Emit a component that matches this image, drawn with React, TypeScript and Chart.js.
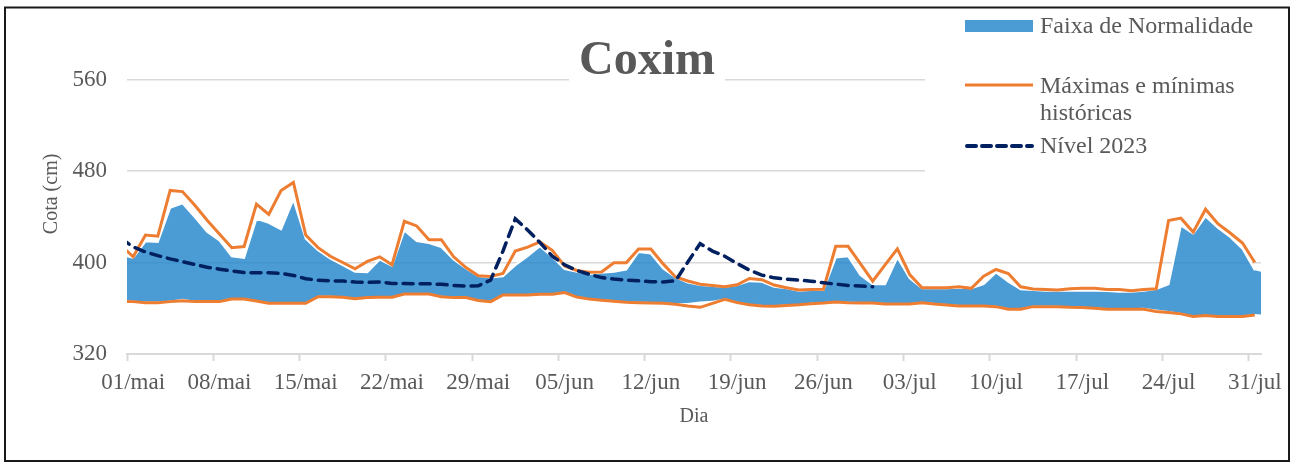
import React, { useEffect, useRef } from 'react';
import { Chart, registerables } from 'chart.js';

Chart.register(...registerables);

// Categories: one per day, 30/abr .. 01/ago (axis shows 01/mai .. 31/jul)
const MONTHS: [string, number, number][] = [
  ['abr', 30, 30],
  ['mai', 1, 31],
  ['jun', 1, 30],
  ['jul', 1, 31],
  ['ago', 1, 1],
];
const dayLabels: string[] = MONTHS.flatMap(([m, a, b]) =>
  Array.from({ length: b - a + 1 }, (_, i) => `${String(a + i).padStart(2, '0')}/${m}`)
);

// Historical maximum (cm)
const histMax: number[] = [
  415,
  405, 424, 423, 463, 462, 450, 437, 425, 413, 414,
  451, 442, 463, 470, 424, 413, 405.5, 400, 394.5, 401,
  405, 398, 436, 432, 420, 420, 405, 395.6, 388.5, 387.8,
  390.5, 410, 413.5, 418, 410.7, 397, 393, 391.5, 391.7, 399.7,
  399.7, 411.8, 411.8, 398.8, 387.3, 383.8, 381, 380, 378.8, 380.5,
  386, 385, 380.3, 378, 375.9, 376.5, 376.6, 414.2, 414.2, 399.1,
  383.7, 398, 412, 389.5, 378, 378, 378, 378.8, 377.4, 388.1,
  393.9, 390.4, 378.8, 376.8, 376.5, 375.9, 377, 377.4, 377.4, 376.5,
  376.5, 375.3, 376.5, 377.1, 436.8, 438.8, 426.6, 446.6, 433.9, 425.8,
  417.1, 400, 388,
];

// Historical minimum (cm)
const histMin: number[] = [
  366,
  365.8, 364.9, 364.9, 365.8, 366.6, 365.8, 365.8, 365.8, 368.1, 368.1,
  366.3, 364.3, 364.3, 364.3, 364.3, 370.1, 370.1, 369.6, 368.4, 369.3,
  369.6, 369.6, 372.4, 372.4, 372.4, 370.1, 369.3, 369.3, 366.8, 365.8,
  371.6, 371.6, 371.6, 372.2, 372.3, 373.7, 369.8, 368, 367, 366.2,
  365.2, 364.9, 364.6, 364.3, 363.5, 362, 360.8, 364.3, 367.8, 364.9,
  363, 362, 361.8, 362.4, 363, 364, 364.5, 365.5, 364.9, 364.7,
  364.6, 363.8, 363.8, 363.8, 364.9, 363.8, 362.9, 362, 362, 362,
  361.4, 359.1, 359.1, 361.4, 361.4, 361.4, 360.8, 360.6, 360, 359.1,
  359.1, 359.1, 359.1, 357.1, 356.2, 355.1, 352.8, 353.6, 352.8, 352.8,
  352.8, 354.2, 353.3,
];

// Normal band lower limit (cm)
const normalMin: number[] = [
  367,
  366.6, 365.8, 365.8, 366.6, 368.3, 366.6, 366.6, 366.6, 368.9, 368.9,
  367.2, 365.2, 365.2, 365.2, 365.2, 370.9, 370.9, 370.4, 369.2, 370.1,
  370.4, 370.4, 373.2, 373.2, 373.2, 370.9, 370.1, 370.1, 367.6, 366.6,
  372.4, 372.4, 372.4, 373, 373.1, 374.5, 370.6, 368.8, 367.8, 367,
  366, 365.7, 365.4, 365.1, 364.3, 364.5, 366, 366.5, 368.6, 365.7,
  363.8, 362.8, 362.6, 363.2, 363.8, 364.8, 365.3, 366.3, 365.7, 365.5,
  365.4, 364.6, 364.6, 364.6, 365.7, 364.6, 363.7, 362.8, 362.8, 362.8,
  362.2, 359.9, 359.9, 362.2, 362.2, 362.2, 361.6, 361.4, 360.8, 359.9,
  359.9, 359.9, 360.5, 359, 357.5, 355.9, 353.6, 354.4, 353.6, 353.6,
  353.6, 355, 354.1,
];

// Normal band upper limit (cm)
const normalMax: number[] = [
  407,
  404, 418.5, 418, 447.8, 451.8, 439.7, 427, 419.4, 405.5, 404,
  438.2, 434.7, 429, 455, 420.8, 410.7, 403.4, 397.7, 392, 391.6,
  402.6, 397.1, 428.1, 418.8, 417.1, 413.6, 402.6, 394.8, 388.1, 386.9,
  388, 397.7, 405.5, 414.2, 404.9, 394.2, 391.9, 389.9, 391, 391.9,
  393.9, 409.2, 407.8, 394.8, 387, 382.5, 380.3, 379.4, 378.8, 380.3,
  383.7, 383.2, 378.8, 377.4, 375.4, 375.9, 375.9, 404.3, 405.5, 389,
  381.1, 381.1, 404.3, 386.1, 377.4, 377.4, 377.4, 378, 377.4, 381.1,
  391.3, 383.2, 376.5, 375.9, 375.4, 375.4, 375.3, 375.3, 375.3, 375.1,
  374.5, 374.5, 375.4, 376.8, 380.9, 432.4, 425.2, 440.3, 430.4, 422.3,
  412.1, 393.3, 390.4,
];

// Level 2023 (cm), ends on 30/jun
const nivel2023: (number | null)[] = [
  421,
  413.6, 409.2, 406, 403.2, 400.8, 398.2, 395.9, 394.2, 392.7, 391.3,
  391, 391, 390.4, 388.7, 385.8, 384.6, 384, 383.8, 382.9, 382.6,
  382.9, 381.7, 381.7, 381.4, 381.4, 380.9, 380, 379.4, 379.7, 384.6,
  410, 438.2, 428.5, 417.5, 405.5, 398, 393, 389.7, 386.8, 385.5,
  384.7, 384, 383.2, 383, 384, 400.5, 416.5, 410, 405.5, 399.1,
  393.3, 389, 386.6, 385.5, 384.6, 383.7, 382.3, 381.1, 380, 379.4,
  378.8, null, null, null, null, null, null, null, null, null,
  null, null, null, null, null, null, null, null, null, null,
  null, null, null, null, null, null, null, null, null, null,
  null, null, null,
];

const yTicks: number[] = [320, 400, 480, 560];
const TITLE = 'Coxim';
const Y_TITLE = 'Cota (cm)';
const X_TITLE = 'Dia';
const LEGEND_BAND = 'Faixa de Normalidade';
const LEGEND_HIST = ['Máximas e mínimas', 'históricas'];
const LEGEND_2023 = 'Nível 2023';

const FONT = "'Liberation Serif', 'Times New Roman', serif";
const TEXT = '#595959';
const GRID = '#d9d9d9';
const BLUE = 'rgba(30,130,203,0.8)';
const BLUE_SOLID = '#4b9bd5';
const ORANGE = '#ED7D31';
const NAVY = '#002060';

const decor = {
  id: 'decor',
  beforeDraw(chart: any) {
    const { ctx, width, height } = chart;
    ctx.save();
    ctx.fillStyle = '#ffffff';
    ctx.fillRect(0, 0, width, height);
    ctx.restore();
  },
  afterDraw(chart: any) {
    const ctx = chart.ctx as CanvasRenderingContext2D;
    ctx.save();
    // Title with white backing
    ctx.font = `bold 48px ${FONT}`;
    const tw = ctx.measureText(TITLE).width;
    const cx = 647;
    ctx.fillStyle = '#ffffff';
    ctx.fillRect(cx - tw / 2 - 10, 30, tw + 20, 56);
    ctx.fillStyle = TEXT;
    ctx.textAlign = 'center';
    ctx.textBaseline = 'alphabetic';
    ctx.fillText(TITLE, cx, 74);

    // Legend with white backing
    ctx.fillStyle = '#ffffff';
    ctx.fillRect(925, 9, 362, 167);
    ctx.textAlign = 'left';
    ctx.font = `24px ${FONT}`;
    ctx.fillStyle = BLUE_SOLID;
    ctx.fillRect(965, 20, 68, 12);
    ctx.fillStyle = TEXT;
    ctx.fillText(LEGEND_BAND, 1040, 33);

    ctx.strokeStyle = ORANGE;
    ctx.lineWidth = 3;
    ctx.beginPath();
    ctx.moveTo(965, 85);
    ctx.lineTo(1033, 85);
    ctx.stroke();
    ctx.fillText(LEGEND_HIST[0], 1040, 93);
    ctx.fillText(LEGEND_HIST[1], 1040, 120);

    ctx.strokeStyle = NAVY;
    ctx.lineWidth = 4;
    ctx.lineCap = 'round';
    ctx.setLineDash([9, 6]);
    ctx.beginPath();
    ctx.moveTo(967, 146);
    ctx.lineTo(1032, 146);
    ctx.stroke();
    ctx.setLineDash([]);
    ctx.lineCap = 'butt';
    ctx.fillText(LEGEND_2023, 1040, 153);

    // Frame
    ctx.strokeStyle = '#1a1a1a';
    ctx.lineWidth = 2;
    ctx.strokeRect(5, 7.5, 1284, 453.5);
    ctx.restore();
  },
};

export default function App() {
  const canvasRef = useRef<HTMLCanvasElement | null>(null);

  useEffect(() => {
    const canvas = canvasRef.current;
    if (!canvas) return;
    const chart = new Chart(canvas, {
      type: 'line',
      data: {
        labels: dayLabels,
        datasets: [
          {
            label: 'normalMin',
            data: normalMin,
            borderColor: 'rgba(255,255,255,0.9)',
            borderWidth: 1.5,
            pointRadius: 0,
            fill: false,
            order: 4,
          },
          {
            label: LEGEND_BAND,
            data: normalMax,
            borderColor: '#ffffff',
            borderWidth: 2,
            backgroundColor: BLUE,
            pointRadius: 0,
            fill: '-1',
            order: 3,
          },
          {
            label: 'Máximas históricas',
            data: histMax,
            borderColor: ORANGE,
            borderWidth: 3,
            pointRadius: 0,
            fill: false,
            order: 1,
          },
          {
            label: 'Mínimas históricas',
            data: histMin,
            borderColor: ORANGE,
            borderWidth: 3,
            pointRadius: 0,
            fill: false,
            order: 1,
          },
          {
            label: LEGEND_2023,
            data: nivel2023,
            borderColor: NAVY,
            borderWidth: 3.5,
            borderDash: [10, 7],
            borderCapStyle: 'round',
            pointRadius: 0,
            fill: false,
            spanGaps: false,
            order: 0,
          },
        ],
      },
      options: {
        responsive: false,
        animation: false,
        devicePixelRatio: 1,
        layout: { padding: { left: 0, top: 32, right: 36, bottom: 0 } },
        elements: { line: { tension: 0 }, point: { radius: 0 } },
        plugins: {
          legend: { display: false },
          title: { display: false },
          tooltip: { enabled: false },
        },
        scales: {
          x: {
            type: 'category',
            min: '01/mai',
            max: '31/jul',
            offset: true,
            grid: {
              offset: true,
              drawOnChartArea: false,
              drawTicks: true,
              tickLength: 7,
              tickWidth: 2,
              tickColor: (c: any) => (c.index % 7 === 0 ? GRID : 'rgba(0,0,0,0)'),
            },
            border: { display: true, color: GRID, width: 2 },
            ticks: {
              autoSkip: false,
              maxRotation: 0,
              minRotation: 0,
              padding: 8,
              color: TEXT,
              font: { family: FONT, size: 23 },
              callback: (v: any, i: number) => (i % 7 === 0 ? dayLabels[v] : ''),
            },
            title: {
              display: true,
              text: X_TITLE,
              color: TEXT,
              font: { family: FONT, size: 20 },
              padding: { top: 0, bottom: 37 },
            },
            afterFit: (s: any) => {
              s.height = 112;
            },
          },
          y: {
            min: 320,
            max: 600,
            afterBuildTicks: (s: any) => {
              s.ticks = yTicks.map((v) => ({ value: v }));
            },
            grid: { color: GRID, lineWidth: 1.5, drawTicks: false },
            border: { display: false },
            ticks: {
              padding: 20,
              color: TEXT,
              font: { family: FONT, size: 23 },
            },
            title: {
              display: true,
              text: Y_TITLE,
              color: TEXT,
              font: { family: FONT, size: 20 },
              padding: { top: 40, bottom: 0 },
            },
            afterFit: (s: any) => {
              s.width = 127;
            },
          },
        },
      },
      plugins: [decor],
    } as any);
    return () => chart.destroy();
  }, []);

  return (
    <div style={{ position: 'fixed', left: 0, top: 0, width: 1297, height: 466, background: '#fff' }}>
      <canvas ref={canvasRef} width={1297} height={466} style={{ display: 'block' }} />
    </div>
  );
}
